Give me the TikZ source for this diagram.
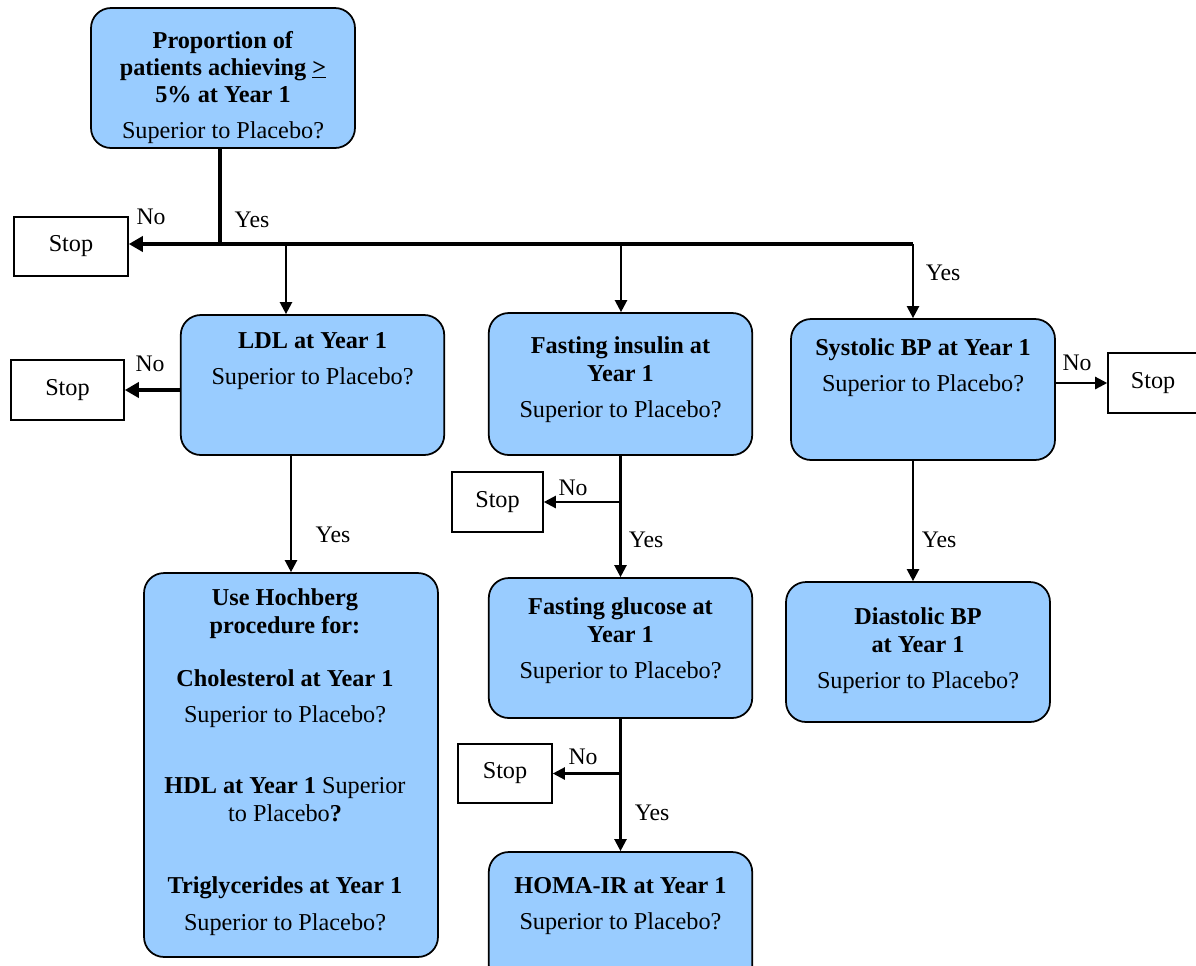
\documentclass[tikz,border=0pt]{standalone}
\usepackage{fontspec}
\setmainfont{Liberation Serif}
\usetikzlibrary{arrows.meta}
\definecolor{boxblue}{RGB}{153,204,255}
\tikzset{
  qbox/.style={draw, fill=boxblue, rounded corners=0.4cm, line width=1pt,
    minimum width=5.27cm, minimum height=2.8cm},
  stopbox/.style={draw, line width=0.9pt, minimum height=1.2cm,
    font=\fontsize{13.8}{15.5}\selectfont},
  txt/.style={align=center, anchor=north, inner sep=0pt,
    font=\fontsize{13.8}{15.5}\selectfont},
  lbl/.style={inner sep=0pt, font=\fontsize{13.5}{15}\selectfont},
  link/.style={line width=1.3pt, -{Triangle[length=0.24cm,width=0.24cm]}},
  thicklink/.style={line width=2.8pt, -{Triangle[length=0.28cm,width=0.3cm]}}
}

\begin{document}
\begin{tikzpicture}[x=0.02cm, y=-0.02cm]
        \useasboundingbox (0,0) rectangle (1196,965);
        % question boxes
        \node[qbox, minimum width=5.28cm] (prop) at (223,78) {};
        \node[qbox] (ldl) at (312.5,385) {};
        \node[qbox, minimum height=2.84cm] (insulin) at (620.5,384) {};
        \node[qbox, minimum width=5.28cm, minimum height=2.82cm] (systolic) at (923,389.5) {};
        \node[qbox, minimum width=5.88cm, minimum height=7.68cm] (hoch) at (291,765) {};
        \node[qbox] (glucose) at (620.5,648) {};
        \node[qbox, minimum height=2.66cm] (homa) at (620.5,918.5) {};
        \node[qbox, minimum width=5.28cm] (dias) at (918,652) {};
        % box texts
        \node[txt] (proptxt) at ([yshift=-0.47cm]prop.north) {\textbf{Proportion of}\\
            \textbf{patients achieving \underline{>}}\\\textbf{5\% at Year 1}\\[5pt]Superior to Placebo?};
        \node[txt] (ldltxt) at ([yshift=-0.35cm]ldl.north) {\textbf{LDL at Year 1}\\[5pt]Superior to Placebo?};
        \node[txt] (insulintxt) at ([yshift=-0.49cm]insulin.north) {\textbf{Fasting insulin at}\\
            \textbf{Year 1}\\[5pt]Superior to Placebo?};
        \node[txt] (systolictxt) at ([yshift=-0.41cm]systolic.north) {\textbf{Systolic BP at Year 1}\\[5pt]Superior to Placebo?};
        \node[txt] (hochtxt) at ([xshift=-0.12cm,yshift=-0.33cm]hoch.north) {\textbf{Use Hochberg}\\
            \textbf{procedure for:}\\[15pt]\textbf{Cholesterol at Year 1}\\[5pt]Superior to Placebo?\\[25pt]
            \textbf{HDL at Year 1} Superior\\to Placebo\textbf{?}\\[26pt]
            \textbf{Triglycerides at Year 1}\\[5pt]Superior to Placebo?};
        \node[txt] (glucosetxt) at ([yshift=-0.41cm]glucose.north) {\textbf{Fasting glucose at}\\
            \textbf{Year 1}\\[5pt]Superior to Placebo?};
        \node[txt] (homatxt) at ([yshift=-0.51cm]homa.north) {\textbf{HOMA-IR at Year 1}\\[5pt]Superior to Placebo?};
        \node[txt] (diastxt) at ([yshift=-0.53cm]dias.north) {\textbf{Diastolic BP}\\
            \textbf{at Year 1}\\[5pt]Superior to Placebo?};
        % stop boxes
        \node[stopbox, minimum width=2.28cm, minimum height=1.18cm] (stopA) at (71,246.5) {Stop};
        \node[stopbox, minimum width=2.26cm] (stopB) at (67.5,390) {Stop};
        \node[stopbox, minimum width=1.8cm] (stopC) at (1153,383) {Stop};
        \node[stopbox, minimum width=1.82cm] (stopD) at (497.5,502) {Stop};
        \node[stopbox, minimum width=1.88cm, minimum height=1.18cm] (stopE) at (505,773.5) {Stop};
        % points on the bar
        \coordinate (barTop) at (220,244);
        \coordinate (barEnd) at (913,244);
        \coordinate (dropL) at (286,244);
        \coordinate (dropM) at (621,244);
        % connectors
        \draw[line width=2.8pt] (barTop |- prop.south) -- (barTop);
        \draw[thicklink] (barEnd) -- (barEnd -| stopA.east);
        \draw[link] (dropL) -- (dropL |- ldl.north);
        \draw[link] (dropM) -- (dropM |- insulin.north);
        \draw[link] (barEnd) -- (barEnd |- systolic.north);
        \draw[thicklink] (ldl.west |- stopB) -- (stopB.east);
        \draw[link] (systolic.east |- stopC) -- (stopC.west);
        \draw[link] (hoch.north |- ldl.south) -- (hoch.north);
        \draw[link] (insulin.south) -- (glucose.north);
        \draw[link] (insulin.south |- stopD) -- (stopD.east);
        \draw[link] (glucose.south) -- (homa.north);
        \draw[link] (glucose.south |- stopE) -- (stopE.east);
        \draw[link] (barEnd |- systolic.south) -- (barEnd |- dias.north);
        % yes / no
        \node[lbl] (noA) at (151,217) {No};
        \node[lbl] (yesA) at (252,220) {Yes};
        \node[lbl] (yesB) at (943,273) {Yes};
        \node[lbl] (noB) at (150,364) {No};
        \node[lbl] (noC) at (1077,363) {No};
        \node[lbl] (noD) at (573,488) {No};
        \node[lbl] (yesC) at (333,535) {Yes};
        \node[lbl] (yesD) at (646,540) {Yes};
        \node[lbl] (yesE) at (939,540) {Yes};
        \node[lbl] (noE) at (583,757) {No};
        \node[lbl] (yesF) at (652,813) {Yes};
\end{tikzpicture}
\end{document}
